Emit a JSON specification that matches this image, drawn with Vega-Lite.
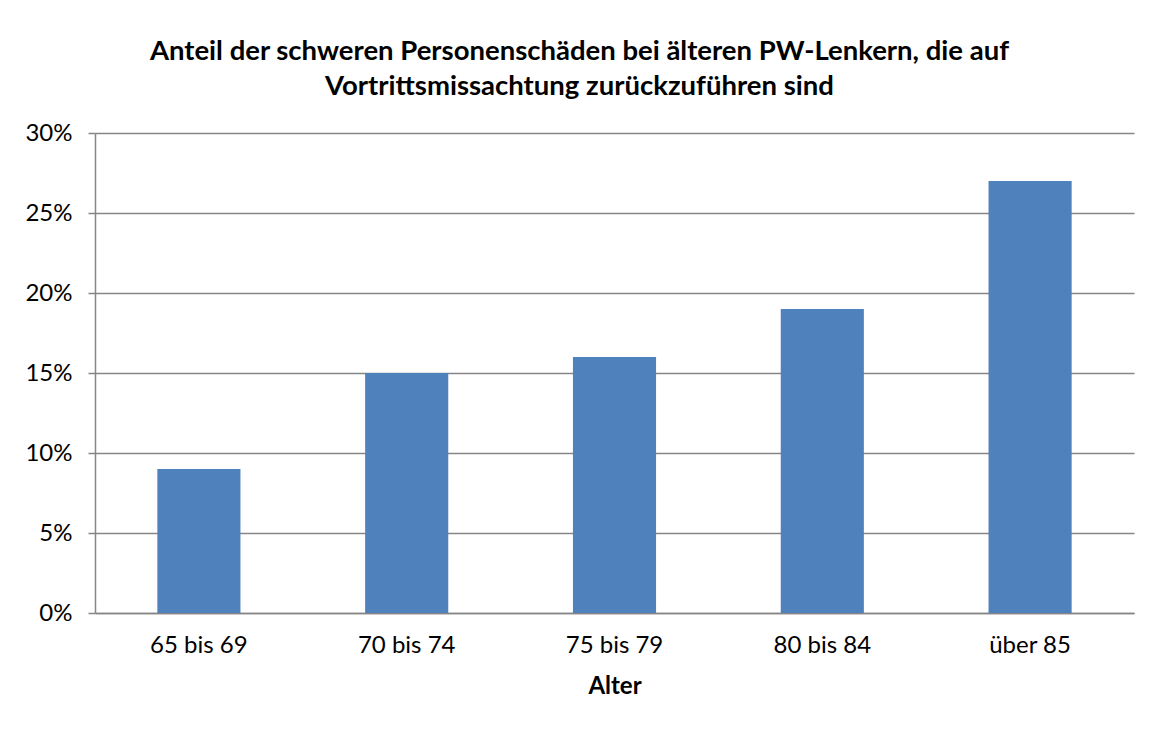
{
  "$schema": "https://vega.github.io/schema/vega-lite/v6.json",
  "autosize": "none",
  "width": 1039,
  "height": 480,
  "padding": {"left": 95, "top": 133, "right": 21, "bottom": 116},
  "background": "white",
  "title": {
    "text": ["Anteil der schweren Personenschäden bei älteren PW-Lenkern, die auf", "Vortrittsmissachtung zurückzuführen sind"],
    "font": "Lato",
    "fontSize": 27.5,
    "fontWeight": "bold",
    "color": "black",
    "lineHeight": 35,
    "anchor": "middle",
    "frame": "bounds",
    "offset": 21
  },
  "data": {
    "values": [
      {"Alter": "65 bis 69", "Anteil": 0.09},
      {"Alter": "70 bis 74", "Anteil": 0.15},
      {"Alter": "75 bis 79", "Anteil": 0.16},
      {"Alter": "80 bis 84", "Anteil": 0.19},
      {"Alter": "über 85", "Anteil": 0.27}
    ]
  },
  "mark": {"type": "bar", "color": "#4F81BD"},
  "encoding": {
    "x": {
      "field": "Alter",
      "type": "nominal",
      "sort": null,
      "scale": {"paddingInner": 0.6, "paddingOuter": 0.3},
      "axis": {
        "title": "Alter",
        "labelAngle": 0,
        "ticks": false,
        "labelPadding": 20,
        "titlePadding": 17,
        "labelFont": "Lato",
        "labelFontSize": 24,
        "labelColor": "black",
        "titleFont": "Lato",
        "titleFontSize": 24,
        "titleFontWeight": "bold",
        "titleColor": "black",
        "domainColor": "#868686",
        "domainWidth": 1.5
      }
    },
    "y": {
      "field": "Anteil",
      "type": "quantitative",
      "scale": {"domain": [0, 0.3]},
      "axis": {
        "title": null,
        "format": ".0%",
        "values": [0, 0.05, 0.1, 0.15, 0.2, 0.25, 0.3],
        "tickSize": 7,
        "tickColor": "#868686",
        "tickWidth": 1.5,
        "labelPadding": 16,
        "labelFont": "Lato",
        "labelFontSize": 24,
        "labelColor": "black",
        "domainColor": "#868686",
        "domainWidth": 1.5,
        "grid": true,
        "gridColor": "#868686",
        "gridWidth": 1.5
      }
    }
  },
  "config": {
    "view": {"stroke": null}
  }
}
